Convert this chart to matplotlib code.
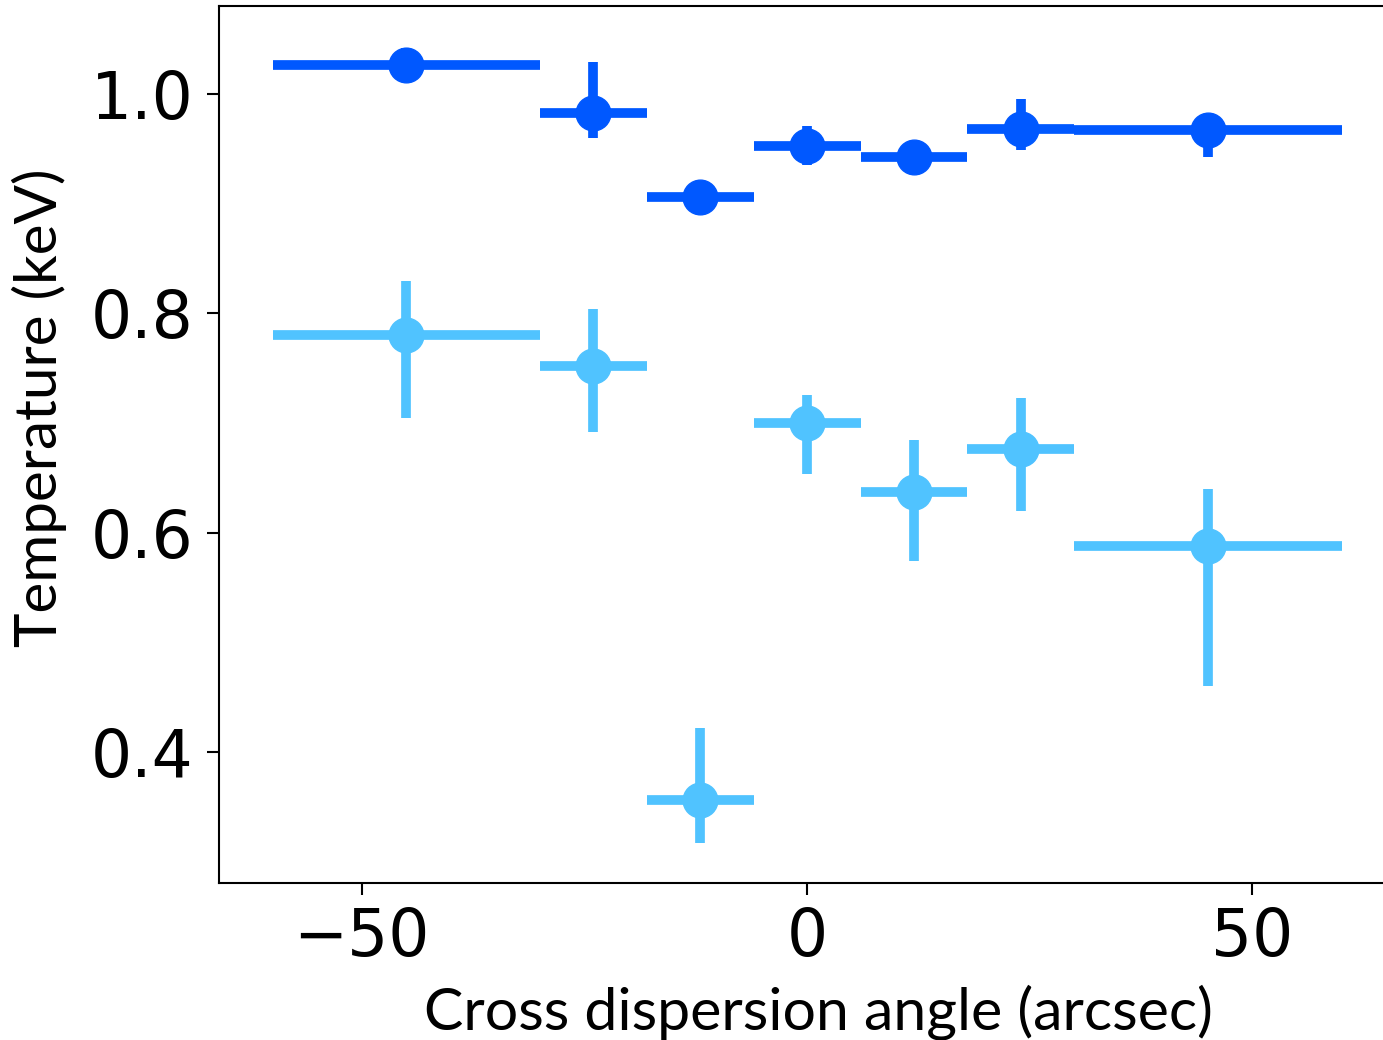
import matplotlib
matplotlib.use('Agg')
import matplotlib.pyplot as plt

# bin centres and half widths (arcsec)
angle = [-45, -24, -12, 0, 12, 24, 45]
half_width = [15, 6, 6, 6, 6, 6, 15]

# hot component (keV) with asymmetric errors
t_hot = [1.027, 0.983, 0.906, 0.953, 0.943, 0.968, 0.967]
t_hot_lo = [0.015, 0.023, 0.010, 0.018, 0.012, 0.019, 0.024]
t_hot_hi = [0.015, 0.046, 0.010, 0.018, 0.012, 0.028, 0.012]

# cool component (keV)
t_cool = [0.780, 0.752, 0.356, 0.700, 0.637, 0.676, 0.588]
t_cool_lo = [0.075, 0.060, 0.039, 0.046, 0.063, 0.056, 0.128]
t_cool_hi = [0.050, 0.052, 0.066, 0.026, 0.048, 0.047, 0.052]

fig = plt.figure(figsize=(13.83, 10.40), dpi=100)
ax = fig.add_axes([0.1584, 0.151, 0.8503, 0.8433])

ax.errorbar(angle, t_hot, xerr=half_width, yerr=[t_hot_lo, t_hot_hi],
            fmt='o', color='#0058ff', ms=25, elinewidth=7, capsize=0)
ax.errorbar(angle, t_cool, xerr=half_width, yerr=[t_cool_lo, t_cool_hi],
            fmt='o', color='#50c3ff', ms=25, elinewidth=7, capsize=0)

ax.set_xlim(-66, 66)
ax.set_ylim(0.2806, 1.0805)
ax.set_xticks([-50, 0, 50])
ax.set_yticks([0.4, 0.6, 0.8, 1.0])
ax.tick_params(labelsize=46.5, length=8.5, width=1.5, pad=10)
ax.tick_params(axis='x', pad=8)
for s in ax.spines.values():
    s.set_linewidth(1.5)

ax.set_xlabel('Cross dispersion angle (arcsec)', fontsize=42.5, family='Lato')
ax.set_ylabel('Temperature (keV)', fontsize=42, family='Lato')
ax.xaxis.set_label_coords(0.51, -0.115)
ax.yaxis.set_label_coords(-0.129, 0.5416)

fig.savefig('out.png', dpi=100)
